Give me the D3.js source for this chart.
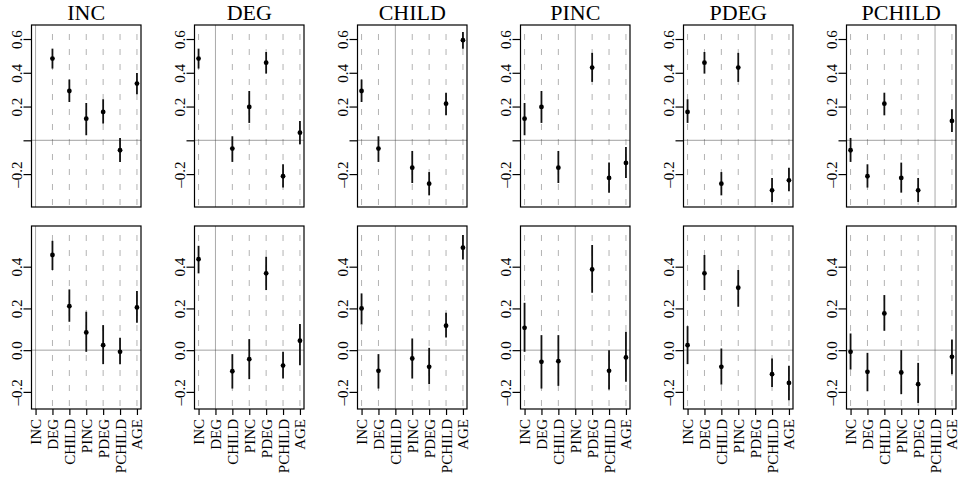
<!DOCTYPE html>
<html>
<head>
<meta charset="utf-8">
<script src="https://cdn.jsdelivr.net/npm/d3@7"></script>
<style>
  html, body { margin: 0; padding: 0; background: #fff; }
  text { font-family: "Liberation Serif", "DejaVu Serif", serif; fill: #000; }
</style>
</head>
<body>
<script>
var vars = ["INC", "DEG", "CHILD", "PINC", "PDEG", "PCHILD", "AGE"];
var panels = ["INC", "DEG", "CHILD", "PINC", "PDEG", "PCHILD"];

// top row: estimate, lower, upper (null = own variable)
var topEst = [
  [null, 0.484, 0.292, 0.128, 0.168, -0.059, 0.336],
  [0.484, null, -0.049, 0.198, 0.460, -0.213, 0.045],
  [0.292, -0.049, null, -0.162, -0.257, 0.217, 0.593],
  [0.128, 0.198, -0.162, null, 0.431, -0.223, -0.134],
  [0.168, 0.460, -0.257, 0.431, null, -0.296, -0.237],
  [-0.059, -0.213, 0.217, -0.223, -0.296, null, 0.115]
];
var topLo = [
  [null, 0.425, 0.227, 0.030, 0.099, -0.128, 0.273],
  [0.425, null, -0.128, 0.103, 0.395, -0.280, -0.024],
  [0.227, -0.128, null, -0.253, -0.326, 0.148, 0.543],
  [0.030, 0.103, -0.253, null, 0.346, -0.310, -0.223],
  [0.103, 0.395, -0.326, 0.346, null, -0.365, -0.302],
  [-0.128, -0.280, 0.148, -0.310, -0.365, null, 0.049]
];
var topHi = [
  [null, 0.543, 0.360, 0.221, 0.243, 0.014, 0.399],
  [0.543, null, 0.024, 0.292, 0.523, -0.142, 0.115],
  [0.360, 0.024, null, -0.063, -0.188, 0.282, 0.642],
  [0.221, 0.292, -0.063, null, 0.518, -0.132, -0.040],
  [0.243, 0.523, -0.188, 0.518, null, -0.223, -0.162],
  [0.014, -0.142, 0.282, -0.132, -0.223, null, 0.184]
];

// bottom row
var botEst = [
  [null, 0.456, 0.211, 0.085, 0.024, -0.008, 0.205],
  [0.436, null, -0.101, -0.043, 0.368, -0.074, 0.045],
  [0.200, -0.099, null, -0.040, -0.080, 0.117, 0.491],
  [0.107, -0.056, -0.053, null, 0.387, -0.099, -0.035],
  [0.024, 0.368, -0.080, 0.299, null, -0.115, -0.157],
  [-0.008, -0.104, 0.176, -0.107, -0.163, null, -0.032]
];
var botLo = [
  [null, 0.384, 0.136, -0.008, -0.067, -0.067, 0.131],
  [0.368, null, -0.184, -0.139, 0.288, -0.136, -0.072],
  [0.123, -0.184, null, -0.136, -0.163, 0.061, 0.435],
  [-0.008, -0.184, -0.171, null, 0.275, -0.189, -0.152],
  [-0.067, 0.288, -0.165, 0.208, null, -0.176, -0.240],
  [-0.093, -0.197, 0.093, -0.211, -0.253, null, -0.115]
];
var botHi = [
  [null, 0.524, 0.291, 0.184, 0.120, 0.059, 0.283],
  [0.500, null, -0.019, 0.053, 0.448, -0.008, 0.125],
  [0.272, -0.019, null, 0.056, 0.011, 0.179, 0.552],
  [0.227, 0.072, 0.072, null, 0.504, 0.000, 0.088],
  [0.115, 0.456, 0.008, 0.384, null, -0.040, -0.075],
  [0.080, -0.013, 0.264, 0.000, -0.061, null, 0.051]
];

var topTicks = [-0.2, 0, 0.2, 0.4, 0.6];
var topTickLabels = ["\u20130.2", "", "0.2", "0.4", "0.6"];
var botTicks = [-0.2, 0, 0.2, 0.4];
var botTickLabels = ["\u20130.2", "0.0", "0.2", "0.4"];

var width = 962, height = 481;
var panelW = 109.5;

var svg = d3.select("body").append("svg")
  .attr("width", width)
  .attr("height", height);

var panelX = d3.scaleLinear().domain([0, 5]).range([31.5, 846.5]);

var rows = [
  { est: topEst, lo: topLo, hi: topHi, ticks: topTicks, labels: topTickLabels,
    y: d3.scaleLinear().domain([-0.395, 0.683]).range([207, 25]), xlabels: false },
  { est: botEst, lo: botLo, hi: botHi, ticks: botTicks, labels: botTickLabels,
    y: d3.scaleLinear().domain([-0.282, 0.595]).range([409, 226]), xlabels: true }
];

panels.forEach(function(name, p) {
  var left = panelX(p);
  var x = d3.scalePoint().domain(vars).range([left, left + panelW]).padding(0.24);

  // title
  svg.append("text")
    .attr("x", left + panelW / 2)
    .attr("y", 20)
    .attr("text-anchor", "middle")
    .style("font-size", "22px")
    .text(name);

  rows.forEach(function(row) {
    var y = row.y;
    var top = y.range()[1], bottom = y.range()[0];
    var g = svg.append("g");

    // vertical grid lines
    vars.forEach(function(v) {
      var own = v === name;
      g.append("line")
        .attr("x1", x(v)).attr("x2", x(v))
        .attr("y1", top).attr("y2", bottom)
        .attr("stroke", own ? "#aaa" : "#aaa")
        .attr("stroke-width", own ? 1 : 0.9)
        .attr("stroke-dasharray", own ? null : "6,9")
        .attr("stroke-dashoffset", own ? null : 6);
    });

    // zero line
    g.append("line")
      .attr("x1", left).attr("x2", left + panelW)
      .attr("y1", y(0)).attr("y2", y(0))
      .attr("stroke", "#444")
      .attr("stroke-dasharray", "1,1");

    // intervals and points
    var pts = vars.map(function(v, i) {
      return { v: v, est: row.est[p][i], lo: row.lo[p][i], hi: row.hi[p][i] };
    }).filter(function(d) { return d.est !== null; });

    g.selectAll(".bar").data(pts).enter().append("line")
      .attr("x1", function(d) { return x(d.v); })
      .attr("x2", function(d) { return x(d.v); })
      .attr("y1", function(d) { return y(d.lo); })
      .attr("y2", function(d) { return y(d.hi); })
      .attr("stroke", "#111")
      .attr("stroke-width", 1.8);

    g.selectAll(".pt").data(pts).enter().append("circle")
      .attr("cx", function(d) { return x(d.v); })
      .attr("cy", function(d) { return y(d.est); })
      .attr("r", 2.4)
      .attr("fill", "#000");

    // box
    g.append("rect")
      .attr("x", left).attr("y", top)
      .attr("width", panelW).attr("height", bottom - top)
      .attr("fill", "none")
      .attr("stroke", "#000")
      .attr("stroke-width", 1.2);

    // y axis
    var yAxis = d3.axisLeft(y)
      .tickValues(row.ticks)
      .tickSize(8)
      .tickFormat(function(d, i) { return row.labels[i]; });
    var ya = g.append("g")
      .attr("transform", "translate(" + left + ",0)")
      .call(yAxis);
    ya.select(".domain").remove();
    ya.selectAll(".tick line").attr("stroke-width", 1.2);
    ya.selectAll(".tick text")
      .attr("x", null).attr("dy", null)
      .attr("fill", "#000")
      .attr("text-anchor", "middle")
      .attr("transform", "translate(-10,0) rotate(-90)")
      .style("font-size", "15px")
      .style("font-family", "'Liberation Serif', serif");

    // x axis with rotated labels
    if (row.xlabels) {
      var xAxis = d3.axisBottom(x).tickSize(6);
      var xa = g.append("g")
        .attr("transform", "translate(0," + bottom + ")")
        .call(xAxis);
      xa.select(".domain").remove();
      xa.selectAll(".tick line").attr("stroke-width", 1.2);
      xa.selectAll(".tick text")
        .attr("y", null).attr("dy", null)
        .attr("fill", "#000")
        .attr("text-anchor", "end")
        .attr("transform", "translate(5,10) rotate(-90)")
        .style("font-size", "15px")
        .style("font-family", "'Liberation Serif', serif");
    }
  });
});
</script>
</body>
</html>
